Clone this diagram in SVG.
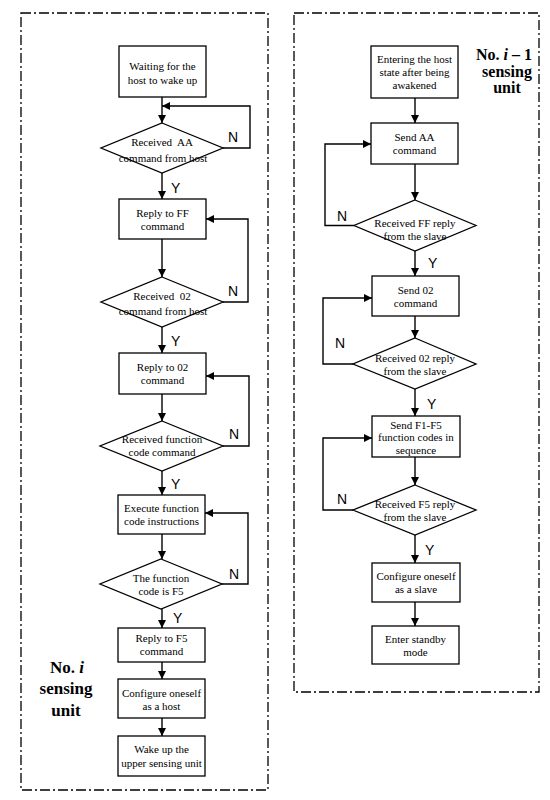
<svg xmlns="http://www.w3.org/2000/svg" width="550" height="800" viewBox="0 0 550 800">
<style>
.frame{fill:none;stroke:#000;stroke-width:1.3;stroke-dasharray:10 3 2 3}
.node rect,.node polygon{fill:#fff;stroke:#000;stroke-width:1.3}
.t{font-family:"Liberation Serif","Times New Roman",serif;font-size:11px;text-anchor:middle;fill:#000}
.yn{font-family:"Liberation Sans",Arial,sans-serif;font-size:14px;fill:#000}
.lbl{font-family:"Liberation Serif","Times New Roman",serif;font-weight:bold;text-anchor:middle;fill:#000}
.c path{fill:none;stroke:#000;stroke-width:1.4}
</style>
<defs>
<marker id="ah" viewBox="0 0 10 10" refX="10" refY="5" markerWidth="8" markerHeight="8" markerUnits="userSpaceOnUse" orient="auto">
<path d="M0,0 L10,5 L0,10 Z" fill="#000"/>
</marker>
</defs>
<rect fill="#fff" width="550" height="800"/>
<g id="frames">
<rect class="frame" x="21" y="13" width="247" height="777"/>
<rect class="frame" x="294" y="13" width="245" height="679"/>
</g>
<g id="labels">
<text class="lbl" x="67" y="673" font-size="17">No. <tspan font-style="italic">i</tspan></text>
<text class="lbl" x="66" y="694" font-size="17">sensing</text>
<text class="lbl" x="66" y="716" font-size="17">unit</text>
<text class="lbl" x="504" y="60" font-size="16">No. <tspan font-style="italic">i</tspan> – 1</text>
<text class="lbl" x="507" y="77" font-size="16">sensing</text>
<text class="lbl" x="507" y="93" font-size="16">unit</text>
</g>
<g class="c" id="connectors">
<path d="M162,97 V123" marker-end="url(#ah)"/>
<path d="M223,148 H250 V106 H162" marker-end="url(#ah)"/>
<path d="M162,173 V199" marker-end="url(#ah)"/>
<path d="M162,239 V277" marker-end="url(#ah)"/>
<path d="M223,302 H248 V219 H206" marker-end="url(#ah)"/>
<path d="M162,327 V353" marker-end="url(#ah)"/>
<path d="M162,394 V421" marker-end="url(#ah)"/>
<path d="M223,446 H249 V376 H206" marker-end="url(#ah)"/>
<path d="M162,471 V495" marker-end="url(#ah)"/>
<path d="M162,534 V559" marker-end="url(#ah)"/>
<path d="M222,584 H248 V513 H205" marker-end="url(#ah)"/>
<path d="M162,609 V628" marker-end="url(#ah)"/>
<path d="M162,662 V679" marker-end="url(#ah)"/>
<path d="M162,718 V736" marker-end="url(#ah)"/>
<path d="M415,98 V123" marker-end="url(#ah)"/>
<path d="M415,164 V200" marker-end="url(#ah)"/>
<path d="M354,225.5 H325 V144 H371" marker-end="url(#ah)"/>
<path d="M415,251 V276" marker-end="url(#ah)"/>
<path d="M415,316 V338" marker-end="url(#ah)"/>
<path d="M353,364 H323 V298 H372" marker-end="url(#ah)"/>
<path d="M415,389 V416" marker-end="url(#ah)"/>
<path d="M415,457 V485" marker-end="url(#ah)"/>
<path d="M353,510 H323 V438 H372" marker-end="url(#ah)"/>
<path d="M415,535 V563" marker-end="url(#ah)"/>
<path d="M415,602 V626" marker-end="url(#ah)"/>
</g>
<g id="yn">
<text class="yn" x="228" y="142">N</text>
<text class="yn" x="171" y="193">Y</text>
<text class="yn" x="228" y="296">N</text>
<text class="yn" x="171" y="346">Y</text>
<text class="yn" x="229" y="439">N</text>
<text class="yn" x="171" y="489">Y</text>
<text class="yn" x="229" y="579">N</text>
<text class="yn" x="173" y="623">Y</text>
<text class="yn" x="337" y="221">N</text>
<text class="yn" x="428" y="268">Y</text>
<text class="yn" x="335" y="348">N</text>
<text class="yn" x="427" y="409">Y</text>
<text class="yn" x="337" y="504">N</text>
<text class="yn" x="425" y="555">Y</text>
</g>
<g class="node" id="L1"><rect x="119" y="46" width="87" height="51"/><text class="t" x="162.5" y="70">Waiting for the</text><text class="t" x="162.5" y="84">host to wake up</text></g>
<g class="node" id="L2"><polygon points="162,123 223,148 162,173 101,148"/><text class="t" x="162" y="146">Received&#160; AA</text><text class="t" x="163" y="162">command from host</text></g>
<g class="node" id="L3"><rect x="119" y="199" width="87" height="40"/><text class="t" x="162.5" y="217">Reply to FF</text><text class="t" x="162.5" y="230">command</text></g>
<g class="node" id="L4"><polygon points="162,277 223,302 162,327 101,302"/><text class="t" x="162" y="300">Received&#160; 02</text><text class="t" x="163" y="315">command from host</text></g>
<g class="node" id="L5"><rect x="119" y="353" width="87" height="41"/><text class="t" x="162.5" y="371">Reply to 02</text><text class="t" x="162.5" y="384">command</text></g>
<g class="node" id="L6"><polygon points="162,421 223,446 162,471 100,446"/><text class="t" x="162" y="443">Received function</text><text class="t" x="162" y="456">code command</text></g>
<g class="node" id="L7"><rect x="118" y="495" width="87" height="39"/><text class="t" x="161.5" y="512">Execute function</text><text class="t" x="161.5" y="525">code instructions</text></g>
<g class="node" id="L8"><polygon points="161,559 222,584 161,609 100,584"/><text class="t" x="161" y="582">The function</text><text class="t" x="161" y="595">code is F5</text></g>
<g class="node" id="L9"><rect x="118" y="628" width="87" height="34"/><text class="t" x="161.5" y="642">Reply to F5</text><text class="t" x="161.5" y="655">command</text></g>
<g class="node" id="L10"><rect x="118" y="679" width="87" height="39"/><text class="t" x="161.5" y="697">Configure oneself</text><text class="t" x="161.5" y="710">as a host</text></g>
<g class="node" id="L11"><rect x="118" y="736" width="87" height="40"/><text class="t" x="161.5" y="753">Wake up the</text><text class="t" x="161.5" y="767">upper sensing unit</text></g>
<g class="node" id="R1"><rect x="371" y="46" width="87" height="52"/><text class="t" x="414.5" y="63">Entering the host</text><text class="t" x="414.5" y="76">state after being</text><text class="t" x="414.5" y="89">awakened</text></g>
<g class="node" id="R2"><rect x="371" y="123" width="87" height="41"/><text class="t" x="414.5" y="141">Send AA</text><text class="t" x="414.5" y="154">command</text></g>
<g class="node" id="R3"><polygon points="415,200 476,225.5 415,251 354,225.5"/><text class="t" x="415" y="227">Received FF reply</text><text class="t" x="415" y="240">from the slave</text></g>
<g class="node" id="R4"><rect x="372" y="276" width="87" height="40"/><text class="t" x="415.5" y="294">Send 02</text><text class="t" x="415.5" y="307">command</text></g>
<g class="node" id="R5"><polygon points="415,338 476,364 415,389 353,364"/><text class="t" x="415" y="362">Received 02 reply</text><text class="t" x="415" y="375">from the slave</text></g>
<g class="node" id="R6"><rect x="372" y="416" width="88" height="41"/><text class="t" x="416" y="429">Send F1-F5</text><text class="t" x="416" y="441">function codes in</text><text class="t" x="416" y="454">sequence</text></g>
<g class="node" id="R7"><polygon points="415,485 476,510 415,535 353,510"/><text class="t" x="415" y="508">Received F5 reply</text><text class="t" x="415" y="521">from the slave</text></g>
<g class="node" id="R8"><rect x="372" y="563" width="88" height="39"/><text class="t" x="416" y="580">Configure oneself</text><text class="t" x="416" y="593">as a slave</text></g>
<g class="node" id="R9"><rect x="372" y="626" width="87" height="38"/><text class="t" x="415.5" y="643">Enter standby</text><text class="t" x="415.5" y="656">mode</text></g>
</svg>
